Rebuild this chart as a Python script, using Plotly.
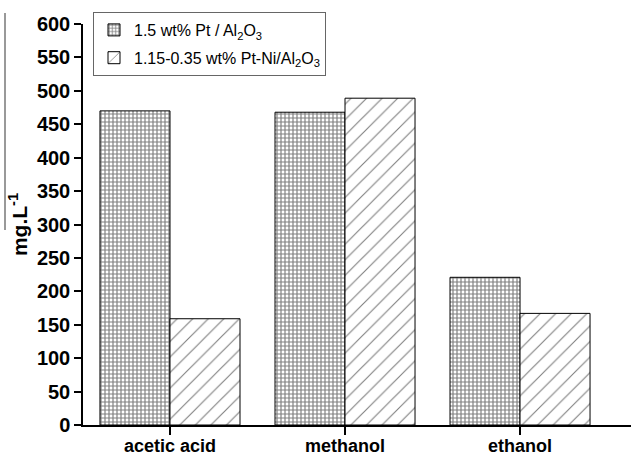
import plotly.graph_objects as go

categories = ["acetic acid", "methanol", "ethanol"]
pt_values = [470, 468, 221]
ptni_values = [159, 489, 167]
series_names = ["1.5 wt% Pt / Al<sub>2</sub>O<sub>3</sub>",
                "1.15-0.35 wt% Pt-Ni/Al<sub>2</sub>O<sub>3</sub>"]
y_ticks = list(range(0, 601, 50))

FONT = "Arial, Liberation Sans, Helvetica, sans-serif"

# layout geometry (pixels)
W, H = 631, 456
L, R, T, B = 83, 0, 6, 31
PLOT_TOP = 24
plot_h = H - T - B
dom_top = (H - B - PLOT_TOP) / plot_h

def py(pix_y):
    return (H - B - pix_y) / plot_h

fig = go.Figure()
fig.add_trace(go.Bar(
    x=categories, y=pt_values, name=series_names[0], legendgroup="a",
    marker=dict(color="white", line=dict(color="black", width=1),
                pattern=dict(shape="+", fgcolor="black", bgcolor="white",
                             size=4, solidity=0.5)),
))
fig.add_trace(go.Bar(
    x=categories, y=ptni_values, name=series_names[1], legendgroup="b",
    marker=dict(color="white", line=dict(color="black", width=1),
                pattern=dict(shape="/", fgcolor="black", bgcolor="white",
                             size=11, solidity=0.1)),
))

fig.update_layout(
    width=W, height=H,
    margin=dict(l=L, r=R, t=T, b=B),
    paper_bgcolor="white", plot_bgcolor="white",
    barmode="group", bargap=0.2, bargroupgap=0,
    font=dict(family=FONT, color="black"),
    showlegend=True,
    legend=dict(x=10 / (W - L - R), y=py(12), xanchor="left", yanchor="top",
                bgcolor="white", bordercolor="#666", borderwidth=1,
                font=dict(size=16, family=FONT), tracegroupgap=4,
                traceorder="grouped"),
    xaxis=dict(
        type="category", range=[-0.497, 2.634], automargin=False,
        showline=True, linecolor="black", linewidth=1.5,
        ticks="outside", ticklen=8, tickwidth=1.5, tickcolor="black",
        tickfont=dict(size=18, family=FONT, weight="bold"),
        ticklabelstandoff=-4,
        showgrid=False, zeroline=False,
    ),
    yaxis=dict(
        range=[0, 600], tickvals=y_ticks, automargin=False,
        domain=[0, dom_top],
        showline=True, linecolor="black", linewidth=1.5,
        ticks="outside", ticklen=7, tickwidth=1.5, tickcolor="black",
        tickfont=dict(size=20, family=FONT, weight="bold"),
        showgrid=False, zeroline=False,
        title=dict(text="mg.L<sup>-1</sup>", standoff=4,
                   font=dict(size=21, family=FONT, weight="bold")),
    ),
    shapes=[dict(type="line", xref="paper", yref="paper",
                 x0=(5 - L) / (W - L - R), x1=(5 - L) / (W - L - R),
                 y0=py(230), y1=py(13),
                 line=dict(color="#777", width=1.5))],
)

fig.write_html(
    "out.html",
    config={"displayModeBar": False},
    post_script="document.body.style.margin='0';document.body.style.overflow='hidden';",
)
